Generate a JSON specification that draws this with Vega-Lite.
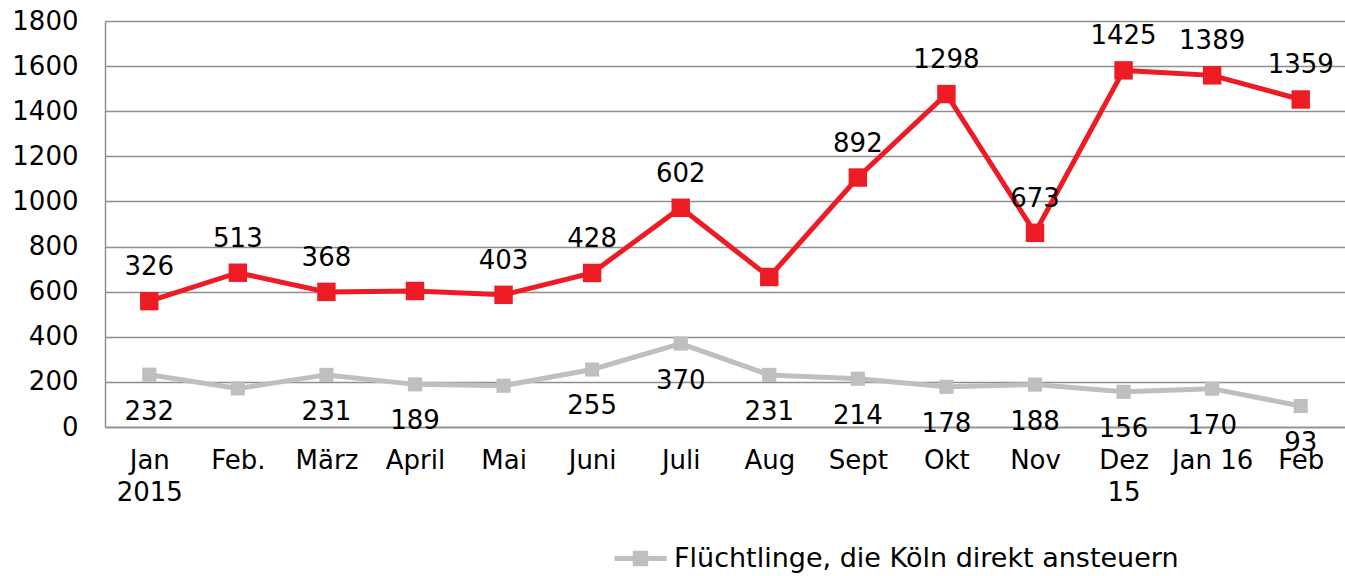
{
  "$schema": "https://vega.github.io/schema/vega-lite/v6.json",
  "width": 1240,
  "height": 406,
  "autosize": {"type": "none"},
  "padding": {"left": 105, "top": 21, "right": 0, "bottom": 149},
  "background": "white",
  "config": {
    "font": "DejaVu Sans",
    "view": {"stroke": null},
    "axis": {"labelFont": "DejaVu Sans", "labelFontSize": 26, "labelColor": "#000000"}
  },
  "data": {
    "values": [
      {"month": "Jan|2015", "ord": 1, "Gray": 232, "Red": 326, "gl": "232", "rl": "326"},
      {"month": "Feb.", "ord": 2, "Gray": 171, "Red": 513, "gl": "", "rl": "513"},
      {"month": "März", "ord": 3, "Gray": 231, "Red": 368, "gl": "231", "rl": "368"},
      {"month": "April", "ord": 4, "Gray": 189, "Red": 414, "gl": "189", "rl": ""},
      {"month": "Mai", "ord": 5, "Gray": 183, "Red": 403, "gl": "", "rl": "403"},
      {"month": "Juni", "ord": 6, "Gray": 255, "Red": 428, "gl": "255", "rl": "428"},
      {"month": "Juli", "ord": 7, "Gray": 370, "Red": 602, "gl": "370", "rl": "602"},
      {"month": "Aug", "ord": 8, "Gray": 231, "Red": 434, "gl": "231", "rl": ""},
      {"month": "Sept", "ord": 9, "Gray": 214, "Red": 892, "gl": "214", "rl": "892"},
      {"month": "Okt", "ord": 10, "Gray": 178, "Red": 1298, "gl": "178", "rl": "1298"},
      {"month": "Nov", "ord": 11, "Gray": 188, "Red": 673, "gl": "188", "rl": "673"},
      {"month": "Dez|15", "ord": 12, "Gray": 156, "Red": 1425, "gl": "156", "rl": "1425"},
      {"month": "Jan 16", "ord": 13, "Gray": 170, "Red": 1389, "gl": "170", "rl": "1389"},
      {"month": "Feb", "ord": 14, "Gray": 93, "Red": 1359, "gl": "93", "rl": "1359"}
    ]
  },
  "transform": [
    {"fold": ["Gray", "Red"], "as": ["key", "value"]},
    {"stack": "value", "groupby": ["month"], "sort": [{"field": "key", "order": "ascending"}], "as": ["v0", "v1"]}
  ],
  "encoding": {
    "x": {
      "field": "month",
      "type": "ordinal",
      "sort": {"field": "ord"},
      "scale": {"type": "point", "padding": 0.5},
      "axis": {
        "title": null,
        "labelAngle": 0,
        "ticks": false,
        "labelPadding": 20,
        "labelExpr": "split(datum.value, '|')",
        "labelLineHeight": 32,
        "labelBaseline": "top",
        "domainColor": "#8e8e8e",
        "domainWidth": 1.5,
        "grid": false
      }
    },
    "y": {
      "field": "v1",
      "type": "quantitative",
      "scale": {"domain": [0, 1800], "nice": false},
      "axis": {
        "title": null,
        "format": "d",
        "values": [0, 200, 400, 600, 800, 1000, 1200, 1400, 1600, 1800],
        "ticks": false,
        "labelPadding": 27,
        "domainColor": "#8e8e8e",
        "domainWidth": 1.5,
        "gridColor": "#8e8e8e",
        "gridWidth": 1.5
      }
    }
  },
  "layer": [
    {
      "transform": [{"filter": "datum.key == 'Gray'"}],
      "mark": {"type": "line", "strokeWidth": 5},
      "encoding": {
        "color": {
          "datum": "Flüchtlinge, die Köln direkt ansteuern",
          "type": "nominal",
          "scale": {"range": ["#BFBFBF"]},
          "legend": {
            "title": null,
            "orient": "none",
            "legendX": 507,
            "legendY": 509,
            "padding": 0,
            "labelFontSize": 27,
            "labelFont": "DejaVu Sans",
            "labelColor": "#000000",
            "labelLimit": 0,
            "labelOffset": 5,
            "symbolType": "M-1,0H1M-0.2,-0.2H0.2V0.2H-0.2Z",
            "symbolSize": 2704,
            "symbolStrokeWidth": 5,
            "symbolStrokeColor": "#BFBFBF",
            "symbolFillColor": "#BFBFBF"
          }
        }
      }
    },
    {
      "transform": [{"filter": "datum.key == 'Gray'"}],
      "mark": {"type": "point", "shape": "square", "filled": true, "size": 200, "color": "#BFBFBF", "opacity": 1}
    },
    {
      "transform": [{"filter": "datum.key == 'Red'"}],
      "mark": {"type": "line", "strokeWidth": 5, "color": "#ED1C24"}
    },
    {
      "transform": [{"filter": "datum.key == 'Red'"}],
      "mark": {"type": "point", "shape": "square", "filled": true, "size": 340, "color": "#ED1C24", "opacity": 1}
    },
    {
      "transform": [{"filter": "datum.key == 'Gray'"}],
      "mark": {"type": "text", "fontSize": 26, "color": "#000000", "baseline": "alphabetic", "dy": 45},
      "encoding": {"text": {"field": "gl"}}
    },
    {
      "transform": [{"filter": "datum.key == 'Red'"}],
      "mark": {"type": "text", "fontSize": 26, "color": "#000000", "baseline": "alphabetic", "dy": -26},
      "encoding": {"text": {"field": "rl"}}
    }
  ]
}
